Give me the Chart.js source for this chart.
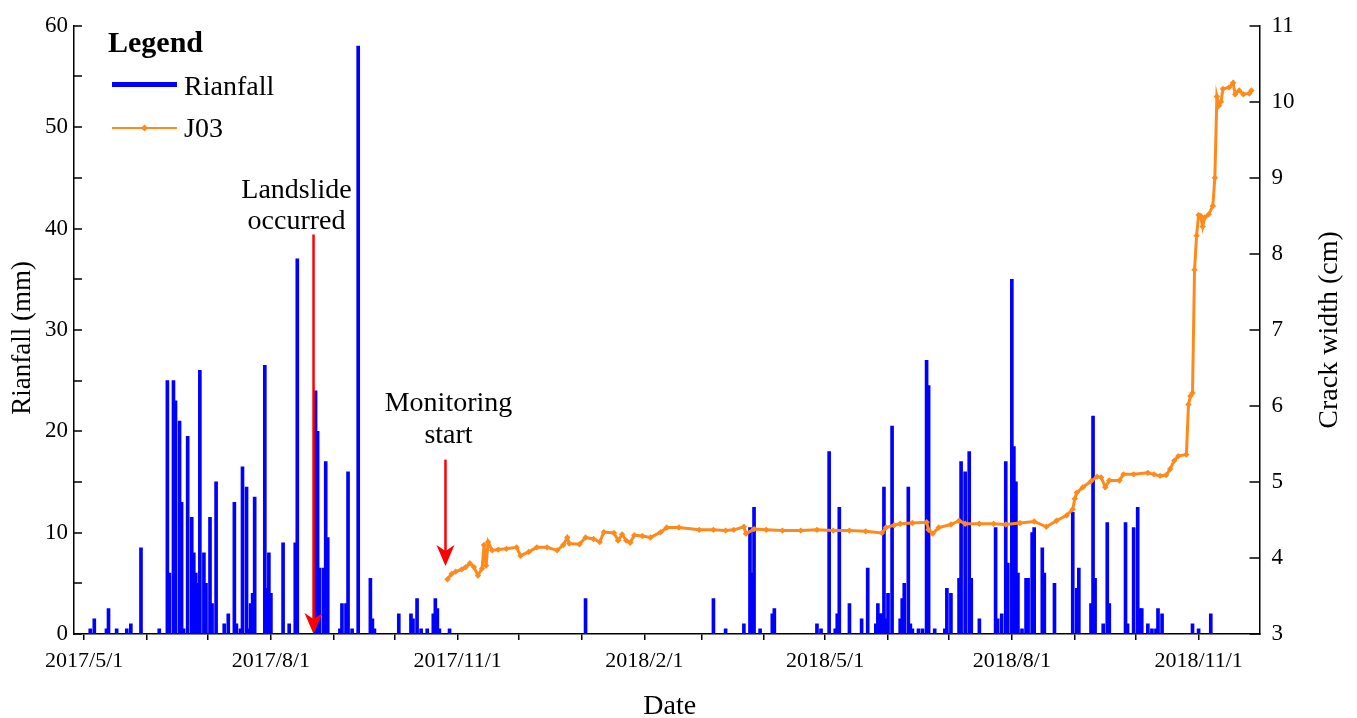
<!DOCTYPE html>
<html>
<head>
<meta charset="utf-8">
<title>Rainfall and crack width J03</title>
<script src="https://cdn.jsdelivr.net/npm/chart.js@4.4.1/dist/chart.umd.min.js"></script>
<style>
  html, body { margin: 0; padding: 0; background: #ffffff; }
  #wrap { width: 1357px; height: 718px; }
</style>
</head>
<body>
<div id="wrap"><canvas id="chart" width="1357" height="718"></canvas></div>
<script>
// ---- daily rainfall (mm) ----
const rainDates = [
  '2017-05-04','2017-05-06','2017-05-12','2017-05-13','2017-05-17','2017-05-22','2017-05-24','2017-05-29',
  '2017-06-07','2017-06-11','2017-06-12','2017-06-14','2017-06-15','2017-06-17','2017-06-18','2017-06-19',
  '2017-06-21','2017-06-23','2017-06-24','2017-06-25','2017-06-26','2017-06-27','2017-06-29','2017-06-30',
  '2017-07-02','2017-07-03','2017-07-05','2017-07-09','2017-07-11','2017-07-14','2017-07-15','2017-07-17',
  '2017-07-18','2017-07-20','2017-07-21','2017-07-22','2017-07-23','2017-07-24','2017-07-29','2017-07-30',
  '2017-07-31','2017-08-01','2017-08-07','2017-08-10','2017-08-13','2017-08-14','2017-08-23','2017-08-24',
  '2017-08-25','2017-08-27','2017-08-28','2017-08-29','2017-09-04','2017-09-05','2017-09-07','2017-09-08',
  '2017-09-10','2017-09-13','2017-09-19','2017-09-20','2017-09-21','2017-10-03','2017-10-09','2017-10-10',
  '2017-10-12','2017-10-14','2017-10-17','2017-10-20','2017-10-21','2017-10-22','2017-10-23','2017-10-28',
  '2018-01-03','2018-03-07','2018-03-13','2018-03-22','2018-03-25','2018-03-26','2018-03-27','2018-03-30',
  '2018-04-05','2018-04-06','2018-04-27','2018-04-29','2018-05-03','2018-05-06','2018-05-07','2018-05-08',
  '2018-05-13','2018-05-19','2018-05-22','2018-05-26','2018-05-27','2018-05-28','2018-05-29','2018-05-30',
  '2018-05-31','2018-06-01','2018-06-03','2018-06-07','2018-06-08','2018-06-09','2018-06-11','2018-06-12',
  '2018-06-13','2018-06-16','2018-06-18','2018-06-20','2018-06-21','2018-06-24','2018-06-29','2018-06-30',
  '2018-07-02','2018-07-06','2018-07-07','2018-07-09','2018-07-11','2018-07-12','2018-07-16','2018-07-24',
  '2018-07-25','2018-07-27','2018-07-29','2018-07-30','2018-08-01','2018-08-02','2018-08-03','2018-08-04',
  '2018-08-06','2018-08-08','2018-08-09','2018-08-11','2018-08-12','2018-08-16','2018-08-17','2018-08-22',
  '2018-08-31','2018-09-02','2018-09-03','2018-09-09','2018-09-10','2018-09-11','2018-09-15','2018-09-17',
  '2018-09-18','2018-09-26','2018-09-27','2018-09-30','2018-10-02','2018-10-03','2018-10-04','2018-10-07',
  '2018-10-09','2018-10-11','2018-10-12','2018-10-14','2018-10-29','2018-11-01','2018-11-07'
];
const rainValues = [
  0.5, 1.5, 0.5, 2.5, 0.5, 0.5, 1, 8.5,
  0.5, 25, 6, 25, 23, 21, 13, 0.5,
  19.5, 11.5, 8, 6, 5, 26, 8, 5,
  11.5, 3, 15, 1, 2, 13, 1, 0.5,
  16.5, 14.5, 0.5, 3, 4, 13.5, 26.5, 4.5,
  8, 4, 9, 1, 9, 37, 24, 20,
  6.5, 6.5, 17, 9.5, 0.5, 3, 3, 16,
  0.5, 58, 5.5, 1.5, 0.5, 2, 2, 1.5,
  3.5, 0.5, 0.5, 2, 3.5, 2.5, 0.5, 0.5,
  3.5, 3.5, 0.5, 1, 10.5, 6, 12.5, 0.5,
  2, 2.5, 1, 0.5, 18, 0.5, 2, 12.5,
  3, 1.5, 6.5, 1, 3, 2, 2, 14.5,
  1.5, 4, 20.5, 1.5, 3.5, 5, 14.5, 1,
  0.5, 0.5, 0.5, 27, 24.5, 0.5, 0.5, 4.5,
  4, 5.5, 17, 16, 18, 5.5, 1.5, 10.5,
  1.5, 2, 17, 7, 35, 18.5, 15, 6,
  0.5, 5.5, 5.5, 10, 10.5, 8.5, 6, 5,
  12, 4.5, 6.5, 3, 21.5, 5.5, 1, 11,
  3, 11, 1, 10.5, 12.5, 2.5, 2.5, 1,
  0.5, 0.5, 2.5, 2, 1, 0.5, 2
];

// ---- crack width of J03 (cm) ----
const crackDates = [
  '2017-10-27','2017-10-29','2017-10-31','2017-11-03','2017-11-05','2017-11-07','2017-11-09','2017-11-11',
  '2017-11-13','2017-11-14','2017-11-15','2017-11-16','2017-11-18','2017-11-21','2017-11-25','2017-11-30',
  '2017-12-02','2017-12-06','2017-12-10','2017-12-15','2017-12-20','2017-12-23','2017-12-25','2017-12-26',
  '2017-12-31','2018-01-03','2018-01-07','2018-01-10','2018-01-12','2018-01-17','2018-01-19','2018-01-21',
  '2018-01-23','2018-01-25','2018-01-27','2018-01-31','2018-02-04','2018-02-09','2018-02-12','2018-02-18',
  '2018-02-28','2018-03-07','2018-03-13','2018-03-17','2018-03-22','2018-03-23','2018-03-27','2018-04-02',
  '2018-04-10','2018-04-19','2018-04-27','2018-05-05','2018-05-13','2018-05-21','2018-05-29','2018-05-31',
  '2018-06-04','2018-06-07','2018-06-13','2018-06-20','2018-06-21','2018-06-23','2018-06-26','2018-07-02',
  '2018-07-06','2018-07-09','2018-07-16','2018-07-23','2018-07-29','2018-08-05','2018-08-12','2018-08-18',
  '2018-08-23','2018-08-28','2018-08-31','2018-09-01','2018-09-02','2018-09-05','2018-09-09','2018-09-12',
  '2018-09-14','2018-09-16','2018-09-18','2018-09-23','2018-09-25','2018-09-30','2018-10-07','2018-10-10',
  '2018-10-13','2018-10-16','2018-10-18','2018-10-20','2018-10-22','2018-10-26','2018-10-27','2018-10-28',
  '2018-10-29','2018-10-30','2018-10-31','2018-11-01','2018-11-02','2018-11-03','2018-11-04','2018-11-06',
  '2018-11-08','2018-11-09','2018-11-10','2018-11-11','2018-11-12','2018-11-13','2018-11-16','2018-11-18',
  '2018-11-19','2018-11-21','2018-11-23','2018-11-26','2018-11-27'
];
const crackValues = [
  3.72, 3.79, 3.82, 3.85, 3.88, 3.93, 3.88, 3.77,
  3.86, 4.17, 3.90, 4.21, 4.10, 4.11, 4.12, 4.14,
  4.03, 4.08, 4.14, 4.14, 4.10, 4.17, 4.27, 4.19,
  4.18, 4.27, 4.25, 4.21, 4.34, 4.33, 4.23, 4.31,
  4.23, 4.20, 4.30, 4.29, 4.27, 4.34, 4.40, 4.40,
  4.37, 4.37, 4.36, 4.37, 4.41, 4.32, 4.38, 4.37,
  4.36, 4.36, 4.37, 4.36, 4.36, 4.35, 4.33, 4.40,
  4.43, 4.45, 4.46, 4.47, 4.37, 4.32, 4.40, 4.44,
  4.49, 4.45, 4.45, 4.45, 4.44, 4.46, 4.48, 4.41,
  4.49, 4.56, 4.64, 4.78, 4.86, 4.93, 5.01, 5.07,
  5.06, 4.93, 5.02, 5.02, 5.10, 5.10, 5.12, 5.10,
  5.08, 5.09, 5.17, 5.28, 5.34, 5.36, 6.02, 6.13,
  6.17, 7.79, 8.24, 8.51, 8.50, 8.36, 8.48, 8.52,
  8.63, 9.00, 10.07, 9.95, 10.00, 10.17, 10.19, 10.25,
  10.10, 10.15, 10.10, 10.11, 10.15
];

// ---- axes ----
const monthTicks = [
  '2017-05-01','2017-06-01','2017-07-01','2017-08-01','2017-09-01','2017-10-01','2017-11-01',
  '2017-12-01','2018-01-01','2018-02-01','2018-03-01','2018-04-01','2018-05-01','2018-06-01',
  '2018-07-01','2018-08-01','2018-09-01','2018-10-01','2018-11-01'
];
const tickLabels = ['2017/5/1','2017/8/1','2017/11/1','2018/2/1','2018/5/1','2018/8/1','2018/11/1'];
const dateLimits = ['2017-04-26', '2018-12-01'];
const rainTicks = [0, 5, 10, 15, 20, 25, 30, 35, 40, 45, 50, 55, 60];
const crackTicks = [3, 4, 5, 6, 7, 8, 9, 10, 11];

// ---- events ----
const landslideDate = '2017-08-22';
const monitoringStartDate = '2017-10-26';

const DAY_MS = 86400000;
const T0 = Date.UTC(2017, 4, 1);
function dayOf(s) {
  const [y, m, d] = s.split('-').map(Number);
  return (Date.UTC(y, m - 1, d) - T0) / DAY_MS;
}
function formatDay(v) {
  const dt = new Date(T0 + Math.round(v) * DAY_MS);
  return dt.getUTCFullYear() + '/' + (dt.getUTCMonth() + 1) + '/' + dt.getUTCDate();
}

const SERIF = "'Liberation Serif', 'Times New Roman', serif";
const BLUE = '#0000FF';
const ORANGE = '#FF8A1C';
const RED = '#FF0000';

function strokeLine(ctx, x1, y1, x2, y2) {
  ctx.beginPath(); ctx.moveTo(x1, y1); ctx.lineTo(x2, y2); ctx.stroke();
}
function downArrow(ctx, x, yTop, yTip) {
  ctx.save();
  ctx.strokeStyle = RED; ctx.fillStyle = RED; ctx.lineWidth = 2.5;
  strokeLine(ctx, x, yTop, x, yTip - 12);
  ctx.beginPath();
  ctx.moveTo(x, yTip);
  ctx.lineTo(x - 9, yTip - 21);
  ctx.lineTo(x, yTip - 15);
  ctx.lineTo(x + 9, yTip - 21);
  ctx.closePath();
  ctx.fill();
  ctx.restore();
}

const decorations = {
  id: 'decorations',
  afterDraw(chart) {
    const { ctx, chartArea: a, scales } = chart;
    const x = scales.x, yR = scales.y, yC = scales.y2;
    ctx.save();

    // inward tick marks on both value axes
    ctx.strokeStyle = '#000'; ctx.lineWidth = 1.5;
    rainTicks.forEach(v => { const py = Math.round(yR.getPixelForValue(v)); strokeLine(ctx, a.left, py, a.left + 8, py); });
    crackTicks.forEach(v => { const py = Math.round(yC.getPixelForValue(v)); strokeLine(ctx, a.right - 10, py, a.right, py); });

    // axis titles
    ctx.fillStyle = '#000';
    ctx.textAlign = 'center'; ctx.textBaseline = 'middle';
    const midY = (a.top + a.bottom) / 2;
    ctx.font = '27px ' + SERIF;
    ctx.save(); ctx.translate(23, midY + 8); ctx.rotate(-Math.PI / 2); ctx.fillText(yR.options.title.text, 0, 0); ctx.restore();
    ctx.font = '28px ' + SERIF;
    ctx.save(); ctx.translate(1330, midY); ctx.rotate(-Math.PI / 2); ctx.fillText(yC.options.title.text, 0, 0); ctx.restore();
    ctx.fillText(x.options.title.text, (a.left + a.right) / 2 + 3, 707);

    // legend
    const ds = chart.data.datasets;
    const rain = ds.find(d => d.type === 'bar');
    const crack = ds.find(d => d.type === 'line');
    ctx.textAlign = 'left'; ctx.textBaseline = 'alphabetic';
    ctx.font = 'bold 30px ' + SERIF;
    ctx.fillText('Legend', 108, 52);
    ctx.lineCap = 'butt';
    ctx.strokeStyle = rain.backgroundColor; ctx.lineWidth = 5;
    strokeLine(ctx, 112, 84.5, 177, 84.5);
    ctx.strokeStyle = crack.borderColor; ctx.lineWidth = 2;
    strokeLine(ctx, 112, 128, 177, 128);
    ctx.fillStyle = crack.borderColor;
    ctx.beginPath(); ctx.moveTo(144.5, 124.5); ctx.lineTo(148, 128); ctx.lineTo(144.5, 131.5); ctx.lineTo(141, 128); ctx.closePath(); ctx.fill();
    ctx.fillStyle = '#000';
    ctx.font = '28px ' + SERIF;
    ctx.fillText(rain.label, 184, 95);
    ctx.fillText(crack.label, 184, 137);

    // event annotations
    const xl = x.getPixelForValue(dayOf(landslideDate));
    const xm = x.getPixelForValue(dayOf(monitoringStartDate));
    ctx.textAlign = 'center';
    ctx.font = '28px ' + SERIF;
    ctx.fillText('Landslide', xl - 17, 198);
    ctx.fillText('occurred', xl - 17, 229);
    ctx.fillText('Monitoring', xm + 3, 411);
    ctx.fillText('start', xm + 3, 443);
    downArrow(ctx, xl, yR.getPixelForValue(39.4), yR.getPixelForValue(0));
    downArrow(ctx, xm, yR.getPixelForValue(17.2), yR.getPixelForValue(6.7));

    ctx.restore();
  }
};

const xTickFont = { family: SERIF, size: 22 };
const yTickFont = { family: SERIF, size: 23 };

new Chart(document.getElementById('chart'), {
  type: 'bar',
  data: {
    datasets: [
      {
        type: 'line',
        label: 'J03',
        yAxisID: 'y2',
        data: crackDates.map((d, i) => ({ x: dayOf(d), y: crackValues[i] })),
        borderColor: ORANGE,
        backgroundColor: ORANGE,
        borderWidth: 3,
        pointStyle: 'rectRot',
        pointRadius: 3.2,
        pointBorderWidth: 0,
        pointBackgroundColor: ORANGE,
        tension: 0,
        order: 0
      },
      {
        type: 'bar',
        label: 'Rianfall',
        yAxisID: 'y',
        data: rainDates.map((d, i) => ({ x: dayOf(d), y: rainValues[i] })),
        backgroundColor: BLUE,
        borderWidth: 0,
        barThickness: 3,
        order: 1
      }
    ]
  },
  options: {
    responsive: false,
    animation: false,
    devicePixelRatio: 1,
    layout: { padding: { top: 23, left: 0, right: 0, bottom: 0 } },
    plugins: { legend: { display: false }, tooltip: { enabled: false } },
    scales: {
      x: {
        type: 'linear',
        min: dayOf(dateLimits[0]),
        max: dayOf(dateLimits[1]),
        offset: false,
        title: { display: false, text: 'Date' },
        afterBuildTicks: s => { s.ticks = monthTicks.map(d => ({ value: dayOf(d) })); },
        afterFit: s => { s.height = 84; },
        grid: { display: true, drawOnChartArea: false, drawTicks: true, tickLength: 6, color: '#000', lineWidth: 1.5, offset: false },
        border: { display: true, color: '#000', width: 1.5 },
        ticks: {
          autoSkip: false, maxRotation: 0, minRotation: 0, padding: 8, color: '#000', font: xTickFont,
          callback: v => { const t = formatDay(v); return tickLabels.includes(t) ? t : ''; }
        }
      },
      y: {
        position: 'left',
        min: 0, max: 60,
        title: { display: false, text: 'Rianfall (mm)' },
        afterBuildTicks: s => { s.ticks = rainTicks.map(v => ({ value: v })); },
        afterFit: s => { s.width = 74; },
        grid: { display: false, drawTicks: false },
        border: { display: true, color: '#000', width: 1.5 },
        ticks: { padding: 6, color: '#000', font: yTickFont, callback: v => (v % 10 === 0 ? String(v) : '') }
      },
      y2: {
        position: 'right',
        min: 3, max: 11,
        title: { display: false, text: 'Crack width (cm)' },
        afterBuildTicks: s => { s.ticks = crackTicks.map(v => ({ value: v })); },
        afterFit: s => { s.width = 97.5; },
        grid: { display: false, drawTicks: false },
        border: { display: true, color: '#000', width: 1.5 },
        ticks: { padding: 12, color: '#000', font: yTickFont, callback: v => String(v) }
      }
    }
  },
  plugins: [decorations]
});
</script>
</body>
</html>
